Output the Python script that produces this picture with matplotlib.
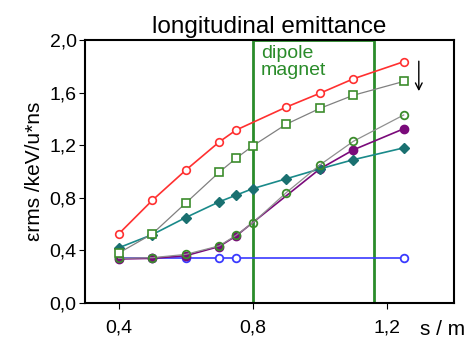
import matplotlib
matplotlib.use("Agg")
import matplotlib.pyplot as plt
from matplotlib.patches import Rectangle
from matplotlib.ticker import FuncFormatter

plt.rcParams['font.family'] = ['Liberation Sans', 'DejaVu Sans']

# data (s in m, emittance in keV/u*ns)
s_red = [0.4, 0.5, 0.6, 0.7, 0.75, 0.9, 1.0, 1.1, 1.25]
e_red = [0.525, 0.78, 1.01, 1.225, 1.315, 1.49, 1.595, 1.705, 1.835]

s_sq = [0.4, 0.5, 0.6, 0.7, 0.75, 0.8, 0.9, 1.0, 1.1, 1.25]
e_sq = [0.38, 0.525, 0.76, 0.995, 1.10, 1.195, 1.36, 1.48, 1.58, 1.685]

s_dia = [0.4, 0.5, 0.6, 0.7, 0.75, 0.8, 0.9, 1.0, 1.1, 1.25]
e_dia = [0.42, 0.52, 0.65, 0.77, 0.82, 0.87, 0.945, 1.02, 1.09, 1.18]

s_circ = [0.4, 0.5, 0.6, 0.7, 0.75, 0.8, 0.9, 1.0, 1.1, 1.25]
e_circ = [0.34, 0.345, 0.37, 0.435, 0.515, 0.61, 0.84, 1.05, 1.23, 1.43]

s_purp = [0.4, 0.5, 0.6, 0.7, 0.75, 1.0, 1.1, 1.25]
e_purp = [0.335, 0.34, 0.36, 0.43, 0.51, 1.02, 1.165, 1.325]

s_blue = [0.4, 0.5, 0.6, 0.7, 0.75, 1.25]
e_blue = [0.345, 0.345, 0.345, 0.345, 0.345, 0.345]

dipole_start, dipole_end = 0.8, 1.16

fig = plt.figure(figsize=(4.7, 3.39), dpi=100)
ax = fig.add_axes([0.181, 0.106, 0.785, 0.776])

green = '#2a8c2a'
ax.add_patch(Rectangle((dipole_start, 0.0), dipole_end - dipole_start, 2.0,
                       fill=False, edgecolor=green, linewidth=2, zorder=2))
ax.text(0.825, 1.965, 'dipole\nmagnet', color=green, fontsize=14,
        va='top', ha='left', linespacing=1.0)

ax.plot(s_blue, e_blue, color='#3a3aff', lw=1.2, marker='o', ms=5.5,
        mfc='white', mec='#3a3aff', mew=1.3, zorder=3)
ax.plot(s_purp, e_purp, color='#7a0a7a', lw=1.2, marker='o', ms=6,
        mfc='#7a0a7a', mec='#7a0a7a', zorder=4)
ax.plot(s_circ, e_circ, color='#909090', lw=0.9, marker='o', ms=5.5,
        mfc='none', mec='#3c8c2c', mew=1.3, zorder=5)
ax.plot(s_dia, e_dia, color='#1a8a8a', lw=1.2, marker='D', ms=5,
        mfc='#1a7070', mec='#1a7070', zorder=4)
ax.plot(s_sq, e_sq, color='#808080', lw=0.9, marker='s', ms=5.5,
        mfc='white', mec='#3c8c2c', mew=1.2, zorder=5)
ax.plot(s_red, e_red, color='#ff3030', lw=1.2, marker='o', ms=5.5,
        mfc='white', mec='#ff3030', mew=1.2, zorder=5)

ax.annotate('', xy=(1.295, 1.59), xytext=(1.295, 1.86),
            arrowprops=dict(arrowstyle='->', color='black', lw=1.0,
                            mutation_scale=12))

ax.set_xlim(0.3, 1.4)
ax.set_ylim(0.0, 2.0)
ax.set_xticks([0.4, 0.8, 1.2])
ax.set_yticks([0.0, 0.4, 0.8, 1.2, 1.6, 2.0])
comma = FuncFormatter(lambda v, p: f'{v:.1f}'.replace('.', ','))
ax.xaxis.set_major_formatter(comma)
ax.yaxis.set_major_formatter(comma)
ax.tick_params(axis='x', labelsize=14, length=4, pad=8)
ax.tick_params(axis='y', labelsize=14, length=4, pad=2)
for sp in ax.spines.values():
    sp.set_linewidth(1.5)

ax.set_title('longitudinal emittance', fontsize=17.5, pad=5)
ax.set_ylabel('\u03b5rms /keV/u*ns', fontsize=15, labelpad=4)
ax.text(1.30, -0.125, 's / m', fontsize=15, ha='left', va='top',
        transform=ax.transData, clip_on=False)

fig.savefig('out.png', dpi=100)
